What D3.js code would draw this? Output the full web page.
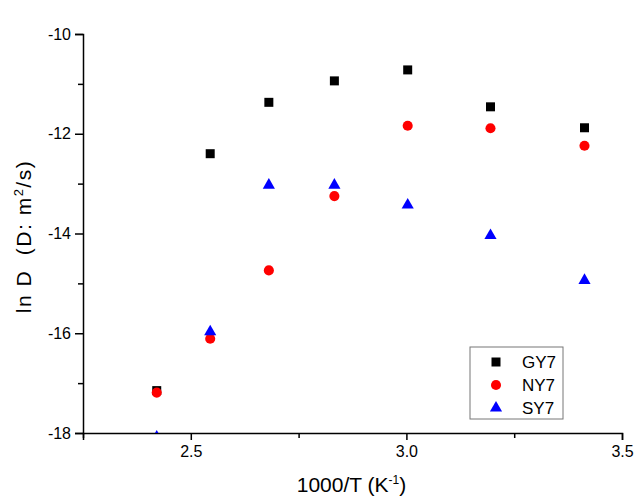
<!DOCTYPE html>
<html>
<head>
<meta charset="utf-8">
<script src="https://cdn.jsdelivr.net/npm/d3@7"></script>
<style>
  body { margin: 0; background: #fff; }
  text { font-family: "Liberation Sans", Arial, sans-serif; fill: #000; }
  .axis path, .axis line { stroke: #000; stroke-width: 1.5; }
</style>
</head>
<body>
<div id="chart"></div>
<script>
// 1000/T values (K^-1)
var invT = [2.421, 2.545, 2.681, 2.833, 3.003, 3.195, 3.413];

// ln D for each sample
var gy7 = [-17.15, -12.40, -11.37, -10.94, -10.72, -11.46, -11.88];
var ny7 = [-17.19, -16.11, -14.74, -13.25, -11.84, -11.89, -12.24];
var sy7 = [-18.08, -15.97, -13.03, -13.03, -13.43, -14.04, -14.94];

var xTicks = [2.25, 2.5, 2.75, 3.0, 3.25, 3.5];
var yTicks = [-18, -17, -16, -15, -14, -13, -12, -11, -10];

var seriesNames = ["GY7", "NY7", "SY7"];
var seriesColors = ["#000000", "#ff0000", "#0000ff"];

var margin = { top: 34, right: 14, bottom: 65, left: 83 },
  width = 636 - margin.left - margin.right,
  height = 498 - margin.top - margin.bottom;

var svg = d3.select("#chart").append("svg")
  .attr("width", 636)
  .attr("height", 498)
  .append("g")
  .attr("transform", "translate(" + margin.left + "," + margin.top + ")");

var x = d3.scaleLinear().domain([2.25, 3.5]).range([0, width]);
var y = d3.scaleLinear().domain([-18, -10]).range([height, 0]);

svg.append("clipPath").attr("id", "clip")
  .append("rect")
  .attr("width", width).attr("height", height);

// axes
var xAxis = d3.axisBottom(x)
  .tickValues(xTicks)
  .tickSizeOuter(0)
  .tickSize(7)
  .tickPadding(6)
  .tickFormat(function(d) { return (Math.round(d * 100) % 50 === 0) ? d3.format(".1f")(d) : ""; });

var gx = svg.append("g")
  .attr("class", "axis")
  .attr("transform", "translate(0," + height + ")")
  .call(xAxis);
gx.selectAll("text").style("font-size", "16px");

var yAxis = d3.axisLeft(y)
  .tickValues(yTicks)
  .tickSizeOuter(0)
  .tickSize(8)
  .tickPadding(4)
  .tickFormat(function(d) { return d % 2 === 0 ? d : ""; });

var gy = svg.append("g")
  .attr("class", "axis")
  .call(yAxis);
gy.selectAll("text").style("font-size", "16px");
gy.selectAll(".tick").filter(function(d) { return d % 2 !== 0; })
  .select("line").attr("x2", -5);
gx.selectAll(".tick").filter(function(d) { return Math.round(d * 100) % 50 !== 0; })
  .select("line").attr("y2", 5);

// titles
svg.append("text")
  .attr("x", width / 2 - 1)
  .attr("y", height + 59)
  .attr("text-anchor", "middle")
  .style("font-size", "21px")
  .html('1000/T (K<tspan dy="-8" font-size="12px">-1</tspan><tspan dy="8">)</tspan>');

svg.append("text")
  .attr("transform", "translate(" + (-52) + "," + (height / 2 + 3) + ") rotate(-90)")
  .attr("text-anchor", "middle")
  .attr("xml:space", "preserve")
  .style("white-space", "pre")
  .style("font-size", "21px")
  .style("letter-spacing", "1.5px")
  .html('ln D  (D: m<tspan dy="-8" font-size="13px">2</tspan><tspan dy="8">/s)</tspan>');

// points
var symbols = [
  d3.symbol().type(d3.symbolSquare).size(81),
  d3.symbol().type(d3.symbolCircle).size(80),
  d3.symbol().type(d3.symbolTriangle).size(64)
];
var allSeries = [gy7, ny7, sy7];

var plot = svg.append("g").attr("clip-path", "url(#clip)");

allSeries.forEach(function(vals, i) {
  plot.selectAll(".pt" + i)
    .data(vals)
    .enter()
    .append("path")
    .attr("class", "pt" + i)
    .attr("d", symbols[i])
    .attr("fill", seriesColors[i])
    .attr("transform", function(d, j) {
      return "translate(" + x(invT[j]) + "," + y(d) + ")";
    });
});

// legend
var legend = svg.append("g")
  .attr("transform", "translate(" + (470 - margin.left) + "," + (347 - margin.top) + ")");

legend.append("rect")
  .attr("width", 93)
  .attr("height", 72)
  .attr("fill", "#fff")
  .attr("stroke", "#777")
  .attr("stroke-width", 1);

seriesNames.forEach(function(name, i) {
  var row = legend.append("g")
    .attr("transform", "translate(0," + (15 + i * 23) + ")");
  row.append("path")
    .attr("d", symbols[i])
    .attr("fill", seriesColors[i])
    .attr("transform", "translate(26,0)");
  row.append("text")
    .attr("x", 52)
    .attr("y", 6)
    .style("font-size", "17px")
    .text(name);
});
</script>
</body>
</html>
